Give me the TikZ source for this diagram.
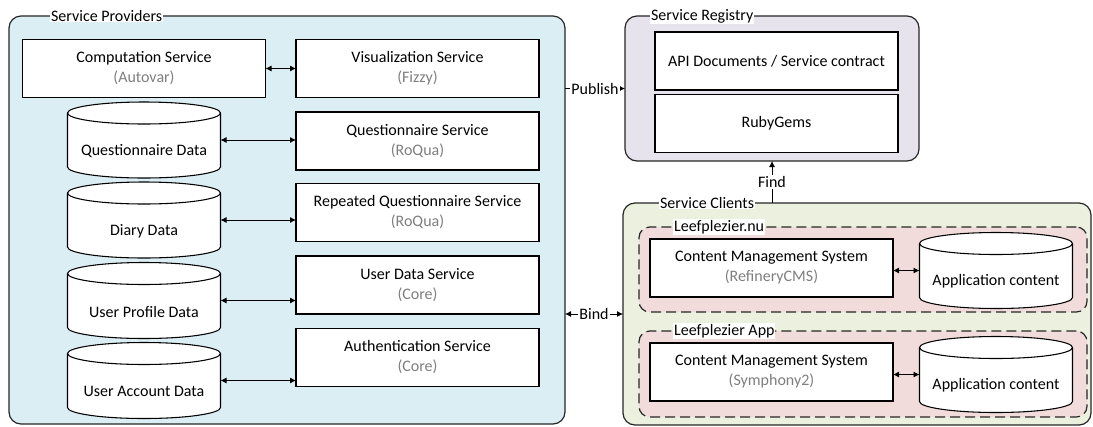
\documentclass[tikz,border=0pt]{standalone}
\usepackage{fontspec}
\setmainfont{Carlito}
\usetikzlibrary{arrows.meta}
\definecolor{provfill}{HTML}{DAEEF3}
\definecolor{regfill}{HTML}{E6E3EC}
\definecolor{clientfill}{HTML}{EBF1DE}
\definecolor{appfill}{HTML}{F2DCDB}
\definecolor{implgray}{HTML}{7F7F7F}
% second line of a box: the implementation in grey
\newcommand{\impl}[1]{\\{\color{implgray}(#1)}}
\tikzset{
  group/.style={draw=black!85, line width=0.9pt, rounded corners=9pt, inner sep=0pt, outer sep=0pt},
  appgroup/.style={draw=black!85, line width=0.9pt, dash pattern=on 7.5pt off 3.75pt, rounded corners=8pt, fill=appfill, inner sep=0pt, outer sep=0pt},
  grouptitle/.style={fill=white, inner sep=0.6pt, anchor=west},
  service/.style={draw, fill=white, line width=0.8pt, minimum width=182.25pt, minimum height=43.5pt, inner sep=0pt, outer sep=0pt, align=center},
  db/.style={minimum width=114.75pt, minimum height=57pt, inner sep=0pt, outer sep=0pt},
  link/.style={line width=0.6pt, {Latex[length=4.5pt,width=4.5pt]}-{Latex[length=4.5pt,width=4.5pt]}},
  arr/.style={line width=0.6pt, -{Latex[length=4.5pt,width=4.5pt]}},
  lbl/.style={fill=white, inner sep=1pt}
}
\begin{document}
\begin{tikzpicture}[x=0.75pt,y=-0.75pt,font=\fontsize{12}{15}\selectfont]
\useasboundingbox (0,0) rectangle (1093,426);
% groups
\node[group, fill=provfill, minimum width=417pt, minimum height=306pt] (providers) at (287,220) {};
\node[group, fill=regfill, minimum width=220.5pt, minimum height=108.75pt] (registry) at (772,88.5) {};
\node[group, fill=clientfill, minimum width=351pt, minimum height=166.5pt] (clients) at (857,314) {};
\node[appgroup, minimum width=336pt, minimum height=63.75pt] (leefnu) at (863,269.5) {};
\node[appgroup, minimum width=336pt, minimum height=64.5pt] (leefapp) at (863,374) {};
\node[grouptitle] (providers-t) at ([xshift=30.75pt]providers.north west) {Service Providers};
\node[grouptitle] (registry-t) at ([xshift=18.75pt]registry.north west) {Service Registry};
\node[grouptitle] (clients-t) at ([xshift=27pt]clients.north west) {Service Clients};
\node[grouptitle] (leefnu-t) at ([xshift=25.5pt]leefnu.north west) {Leefplezier.nu};
\node[grouptitle] (leefapp-t) at ([xshift=25.5pt]leefapp.north west) {Leefplezier App};

% services
\node[service] (comp) at (144,68.5) {Computation Service\impl{Autovar}};
\node[service] (vis) at (417.5,68.5) {Visualization Service\impl{Fizzy}};
\node[service] (quest) at (417.5,141) {Questionnaire Service\impl{RoQua}};
\node[service] (rquest) at (417.5,212.5) {Repeated Questionnaire Service\impl{RoQua}};
\node[service] (udata) at (417.5,285) {User Data Service\impl{Core}};
\node[service] (auth) at (417.5,357.5) {Authentication Service\impl{Core}};
\node[service] (api) at (776.5,61) {API Documents / Service contract};
\node[service] (gems) at (776.5,123.5) {RubyGems};
\node[service] (cms1) at (771.5,268) {Content Management System\impl{RefineryCMS}};
\node[service] (cms2) at (771.5,372) {Content Management System\impl{Symphony2}};

% data stores
\node[db] (qdb) at (144,140) {};
\node[db] (ddb) at (144,220) {};
\node[db] (pdb) at (144,300.5) {};
\node[db] (adb) at (144,380.5) {};
\node[db] (cdb1) at (996,270.5) {};
\node[db] (cdb2) at (996,374.5) {};
\foreach \c/\t in {qdb/Questionnaire Data, ddb/Diary Data, pdb/User Profile Data,
                   adb/User Account Data, cdb1/Application content, cdb2/Application content}{
  \filldraw[fill=white, line width=0.8pt] ([yshift=-8.25pt]\c.north west) -- ([yshift=8.25pt]\c.south west)
    arc[start angle=180, end angle=360, x radius=57.375pt, y radius=8.25pt]
    -- ([yshift=-8.25pt]\c.north east)
    arc[start angle=0, end angle=180, x radius=57.375pt, y radius=8.25pt] -- cycle;
  \draw[line width=0.8pt] ([yshift=-8.25pt]\c.north west)
    arc[start angle=180, end angle=360, x radius=57.375pt, y radius=8.25pt];
  \node (\c-t) at ([yshift=-8.25pt]\c.center) {\t};
}

% links
\draw[link] (comp.east) -- (vis.west);
\draw[link] (qdb.east) -- (quest.west |- qdb.east);
\draw[link] (ddb.east) -- (rquest.west |- ddb.east);
\draw[link] (pdb.east) -- (udata.west |- pdb.east);
\draw[link] (adb.east) -- (auth.west |- adb.east);
\draw[link] (cms1.east |- cdb1.west) -- (cdb1.west);
\draw[link] (cms2.east |- cdb2.west) -- (cdb2.west);
\draw[arr] (providers.east |- registry.west) -- node[lbl] (publish) {Publish} (registry.west);
\draw[arr] (clients.north -| registry.south) -- node[lbl] (find) {Find} (registry.south);
\draw[link] (providers.east |- clients.west) -- node[lbl] (bind) {Bind} (clients.west);
\end{tikzpicture}
\end{document}
